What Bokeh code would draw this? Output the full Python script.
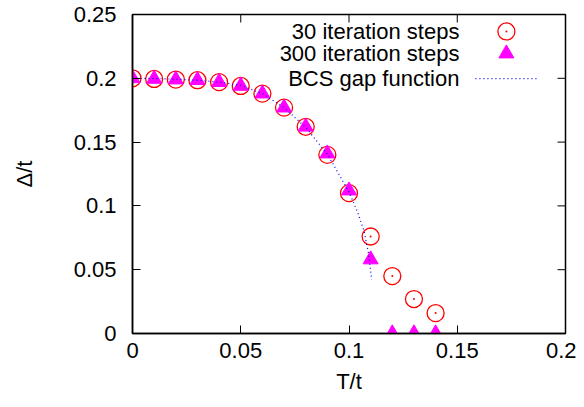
import math
from bokeh.plotting import figure
from bokeh.models import Range1d, FixedTicker, Label
from bokeh.embed import file_html
from bokeh.resources import INLINE

# ---- data ----
T30 = [0.0, 0.01, 0.02, 0.03, 0.04, 0.05, 0.06, 0.07, 0.08, 0.09, 0.10, 0.11, 0.12, 0.13, 0.14]
gap30 = [0.200, 0.1995, 0.199, 0.1985, 0.197, 0.194, 0.188, 0.177, 0.162, 0.140, 0.110, 0.076, 0.045, 0.027, 0.016]

T300 = [0.0, 0.01, 0.02, 0.03, 0.04, 0.05, 0.06, 0.07, 0.08, 0.09, 0.10, 0.11, 0.12, 0.13, 0.14]
gap300 = [0.200, 0.1995, 0.199, 0.1985, 0.197, 0.194, 0.188, 0.177, 0.162, 0.141, 0.112, 0.058, 0.0, 0.0, 0.0]

T_bcs = [0.0, 0.01, 0.02, 0.03, 0.04, 0.05, 0.06, 0.07, 0.08, 0.09, 0.10, 0.104, 0.107, 0.109, 0.1105]
gap_bcs = [0.200, 0.1998, 0.1993, 0.1985, 0.197, 0.1945, 0.188, 0.177, 0.1615, 0.1405, 0.111, 0.095, 0.080, 0.063, 0.042]

xticks = [0.0, 0.05, 0.1, 0.15, 0.2]
xtick_labels = ["0", "0.05", "0.1", "0.15", "0.2"]
yticks = [0.0, 0.05, 0.1, 0.15, 0.2, 0.25]
ytick_labels = ["0", "0.05", "0.1", "0.15", "0.2", "0.25"]

legend_labels = ["30 iteration steps", "300 iteration steps", "BCS gap function"]

FONT = "Liberation Sans"
FS = "22px"

p = figure(width=576, height=399, output_backend="svg", toolbar_location=None,
           x_range=Range1d(0, 0.2), y_range=Range1d(0, 0.25),
           min_border_left=132, min_border_right=11, min_border_top=14, min_border_bottom=66)
p.background_fill_color = "white"
p.border_fill_color = "white"
p.outline_line_color = "black"
p.outline_line_width = 1.5
p.grid.visible = False

for ax, ticks, labels in ((p.xaxis[0], xticks, xtick_labels), (p.yaxis[0], yticks, ytick_labels)):
    ax.ticker = FixedTicker(ticks=ticks)
    ax.major_label_overrides = {t: l for t, l in zip(ticks, labels)}
    ax.major_tick_in = 8
    ax.major_tick_out = 0
    ax.minor_tick_in = 0
    ax.minor_tick_out = 0
    ax.major_label_text_font = FONT
    ax.major_label_text_font_size = FS
    ax.major_label_text_color = "black"
    ax.axis_label_text_font = FONT
    ax.axis_label_text_font_size = FS
    ax.axis_label_text_font_style = "normal"
    ax.axis_label_text_color = "black"
    ax.axis_line_color = "black"
    ax.axis_line_width = 1.5
    ax.major_tick_line_width = 1

p.xaxis[0].axis_label = "T/t"
p.xaxis[0].major_label_standoff = 9
p.xaxis[0].axis_label_standoff = 8
p.yaxis[0].axis_label = "Δ/t"
p.yaxis[0].major_label_standoff = 16
p.yaxis[0].axis_label_standoff = 34

# mirrored ticks on top and right (inward, gnuplot style)
p.ray(x=xticks, y=[0.25] * len(xticks), length=8, length_units="screen",
      angle=-math.pi / 2, line_color="black", line_width=1)
p.ray(x=[0.2] * len(yticks), y=yticks, length=8, length_units="screen",
      angle=math.pi, line_color="black", line_width=1)

# data glyphs
p.scatter(T30, gap30, marker="circle", size=17, fill_color=None, line_color="#ff0000", line_width=1.3)
p.scatter(T30, gap30, marker="circle", size=2, fill_color="#ff0000", line_color=None)
p.scatter(T300, gap300, marker="triangle", size=15, fill_color="#ff00ff", line_color="#ff00ff")
p.line(T_bcs, gap_bcs, line_color="#0000ff", line_width=1.2, line_dash="1 3")

# gnuplot-style legend (text right-aligned, sample at right)
leg_text_x = 0.151
leg_sample_x = 0.1727
leg_line_x = [0.1584, 0.1866]
leg_rows_y = [0.2367, 0.2194, 0.1998]
for lab, yy in zip(legend_labels, leg_rows_y):
    p.add_layout(Label(x=leg_text_x, y=yy, text=lab, text_align="right", text_baseline="middle",
                       text_font=FONT, text_font_size=FS, text_color="black"))
p.scatter([leg_sample_x], [leg_rows_y[0]], marker="circle", size=17, fill_color=None,
          line_color="#ff0000", line_width=1.3)
p.scatter([leg_sample_x], [leg_rows_y[0]], marker="circle", size=2, fill_color="#ff0000", line_color=None)
p.scatter([leg_sample_x], [leg_rows_y[1]], marker="triangle", size=15, fill_color="#ff00ff", line_color="#ff00ff")
p.line(leg_line_x, [leg_rows_y[2], leg_rows_y[2]], line_color="#0000ff", line_width=1.2, line_dash="1 3")

open("out.html", "w").write(file_html(p, INLINE))
